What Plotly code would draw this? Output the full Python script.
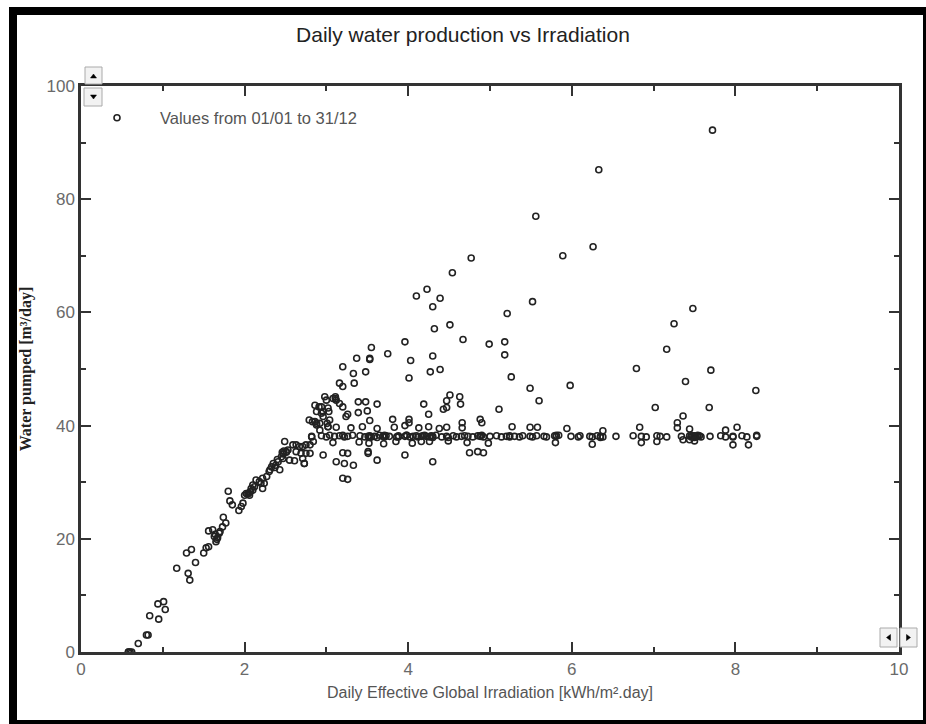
import plotly.graph_objects as go

# ---- data: daily effective irradiation [kWh/m².day] vs water pumped [m³/day] ----

# rising (irradiation-limited) part of the year
irr_ramp = [0.58, 0.58, 0.60, 0.62, 0.70, 0.80, 0.82, 0.84, 0.95, 0.94, 1.01, 1.03,
            1.17, 1.29, 1.35, 1.31, 1.33, 1.40,
            1.50, 1.53, 1.56, 1.56, 1.61, 1.63, 1.65, 1.66, 1.69, 1.73, 1.74, 1.77, 1.70, 1.64, 1.67,
            1.80, 1.82, 1.85,
            1.93, 1.96, 1.98, 2.00, 2.02, 2.04, 2.06, 2.07, 2.10, 2.12, 2.14, 2.18, 2.22, 2.22, 2.24, 2.05, 2.08, 2.10, 2.20,
            2.27, 2.30, 2.31, 2.33, 2.35, 2.37, 2.41, 2.43, 2.45, 2.47, 2.49, 2.51, 2.53, 2.55, 2.59, 2.61,
            2.63, 2.67, 2.69, 2.71, 2.73, 2.75, 2.80, 2.82, 2.84, 2.38, 2.40, 2.46, 2.48, 2.47, 2.51, 2.63,
            2.71, 2.75, 2.80, 2.73]
water_ramp = [0.0, 0.0, 0.0, 0.0, 1.5, 3.0, 3.0, 6.4, 5.8, 8.5, 8.9, 7.5,
              14.8, 17.5, 18.1, 13.9, 12.7, 15.8,
              17.5, 18.4, 18.6, 21.4, 21.6, 20.4, 19.5, 19.9, 21.0, 22.1, 23.8, 22.8, 21.3, 20.8, 20.2,
              28.4, 26.7, 26.0,
              25.0, 25.7, 26.3, 27.7, 28.0, 27.9, 27.7, 28.3, 28.6, 29.2, 30.4, 30.1, 30.7, 28.9, 29.8, 28.1, 28.9, 29.5, 29.8,
              31.0, 31.9, 32.2, 32.7, 33.3, 32.6, 33.6, 32.2, 34.5, 35.0, 37.2, 35.4, 35.7, 33.9, 36.6, 33.8,
              35.4, 36.3, 35.1, 34.2, 33.3, 36.6, 35.1, 38.0, 37.2, 33.0, 34.0, 35.3, 35.5, 34.2, 35.3, 36.6,
              36.3, 35.1, 36.6, 33.3]

# pump-limited plateau
irr_plateau = [2.82, 2.94, 3.00, 3.04, 3.10, 3.16, 3.22, 3.26, 3.32, 3.41, 3.47, 3.51, 3.53, 3.55,
               3.59, 3.65, 3.69, 3.71, 3.73, 3.77, 3.86, 3.88, 3.96, 3.98, 4.02, 4.06, 4.10, 4.12,
               4.16, 4.18, 4.22, 4.26, 4.28, 4.30, 4.34, 4.41, 4.47, 4.55, 4.59, 4.65, 4.69, 4.73,
               4.79, 4.85, 4.88, 4.90, 4.92, 5.00, 5.08, 5.14, 5.20, 5.24, 5.30, 5.36, 5.40, 5.49,
               5.52, 5.57, 5.66, 5.69, 5.79, 5.81, 5.84, 5.99, 6.08, 6.10, 6.22, 6.25, 6.31, 6.35,
               6.38, 6.54, 6.75, 6.85, 6.91, 7.04, 7.08, 7.16, 7.34, 7.44, 7.46, 7.48, 7.50, 7.52,
               7.54, 7.56, 7.58, 7.69, 7.82, 7.88, 7.97, 8.08, 8.14, 8.26,
               3.53, 3.71, 3.88, 3.98, 4.30, 4.88, 5.24, 5.81, 6.35, 7.46, 7.50, 7.54, 7.97, 8.26,
               3.20, 3.62, 4.20, 4.49]
water_plateau = [38.1, 38.2, 38.0, 38.3, 38.1, 38.2, 38.0, 38.1, 38.3, 38.2, 38.0, 38.1, 38.2, 38.0,
                 38.1, 38.3, 38.1, 38.0, 38.2, 38.1, 38.0, 38.2, 38.1, 38.3, 38.0, 38.1, 38.2, 38.0,
                 38.1, 38.2, 38.1, 38.0, 38.2, 38.1, 38.3, 38.0, 38.1, 38.2, 38.0, 38.1, 38.2, 38.1,
                 38.0, 38.2, 38.1, 38.3, 38.0, 38.1, 38.2, 38.0, 38.1, 38.2, 38.1, 38.0, 38.2, 38.1,
                 38.0, 38.2, 38.1, 38.0, 38.2, 38.1, 38.3, 38.1, 38.0, 38.2, 38.1, 38.0, 38.2, 38.1,
                 38.0, 38.1, 38.2, 38.1, 38.0, 38.2, 38.1, 38.0, 38.1, 38.2, 38.0, 38.1, 38.2, 38.0,
                 38.1, 38.2, 38.0, 38.1, 38.2, 38.0, 38.1, 38.2, 38.0, 38.1,
                 37.9, 38.3, 38.0, 38.3, 37.9, 38.2, 38.0, 38.3, 37.9, 38.3, 37.9, 38.3, 38.0, 38.3,
                 38.3, 37.9, 38.3, 37.9]

# days above the plateau
irr_upper = [3.20, 3.48, 3.33, 4.27, 4.39, 4.01, 3.34, 3.16, 3.20, 3.11, 3.08, 3.12, 3.11, 2.98,
             2.86, 2.94, 2.88, 2.96, 3.02, 3.16, 3.20, 3.39, 3.48, 3.62, 3.26, 3.39, 3.50, 3.53,
             3.81, 4.01, 4.19, 4.25, 4.43, 4.47, 4.51, 4.47, 4.63, 4.64, 4.66, 4.88, 2.79, 2.83,
             2.88, 2.92, 2.96, 3.04, 3.02, 3.24, 2.91, 2.92, 2.94, 3.00, 3.01, 3.03, 2.86, 2.88,
             3.55, 3.53, 3.53, 3.37, 3.75, 3.96, 4.03, 4.30, 4.10, 4.23, 4.39, 4.30, 4.32, 4.51,
             4.67, 4.54, 4.77, 4.99, 5.18, 5.18, 5.21, 5.26, 5.11, 5.52, 5.49, 5.60, 5.56, 5.89,
             5.98, 6.26, 6.33, 7.72, 7.48, 7.25, 7.16, 6.79, 7.70, 7.39, 8.25, 7.02, 7.68, 7.36,
             7.29, 3.02, 3.12, 3.30, 3.44, 3.62, 3.83, 3.96, 4.01, 4.13, 4.25, 4.38, 4.47, 4.66,
             4.90, 5.27, 5.49, 5.58, 5.94, 6.38, 6.83, 7.29, 8.02, 7.44, 7.88]
water_upper = [50.4, 49.5, 49.2, 49.5, 49.9, 48.4, 47.5, 47.5, 46.9, 44.8, 44.8, 44.5, 45.1, 45.1,
               43.6, 43.3, 42.5, 42.5, 43.1, 43.9, 43.3, 44.2, 44.2, 43.8, 42.0, 42.3, 42.6, 40.9,
               41.1, 41.1, 43.8, 42.0, 42.9, 43.2, 45.4, 44.4, 45.1, 43.8, 40.5, 41.1, 41.0, 40.7,
               40.1, 40.4, 41.6, 41.0, 39.8, 41.6, 43.3, 39.2, 42.2, 44.5, 40.4, 42.5, 40.7, 40.4,
               53.8, 51.7, 51.9, 51.9, 52.7, 54.8, 51.5, 52.3, 62.9, 64.1, 62.5, 61.0, 57.1, 57.8,
               55.2, 67.0, 69.6, 54.4, 54.8, 52.5, 59.8, 48.6, 42.9, 61.9, 46.6, 44.4, 77.0, 70.0,
               47.1, 71.6, 85.2, 92.2, 60.7, 58.0, 53.5, 50.1, 49.8, 47.8, 46.2, 43.2, 43.2, 41.7,
               40.5, 39.8, 39.7, 39.6, 39.8, 39.5, 39.7, 40.0, 40.5, 39.6, 39.8, 39.5, 39.7, 39.6,
               40.5, 39.8, 39.7, 39.7, 39.5, 39.1, 39.7, 39.6, 39.7, 39.4, 39.2]

# days below the plateau
irr_lower = [2.96, 3.20, 3.12, 3.33, 3.51, 3.51, 3.62, 3.96, 4.30, 4.75, 4.85, 4.92, 3.20, 3.26,
             3.26, 3.22, 3.08, 3.40, 3.52, 3.85, 4.16, 4.26, 4.49, 4.72, 4.98, 5.80, 6.25, 7.04,
             7.36, 7.44, 7.97, 8.16, 6.85, 7.50, 3.70, 4.05]
water_lower = [34.8, 35.2, 33.6, 33.0, 35.1, 35.4, 33.9, 34.8, 33.6, 35.2, 35.4, 35.2, 30.7, 30.5,
               35.1, 33.3, 37.0, 37.1, 36.9, 37.2, 37.2, 37.2, 37.3, 37.0, 36.9, 37.0, 36.7, 37.2,
               37.5, 37.5, 36.6, 36.6, 37.0, 37.3, 36.8, 36.9]

irradiation = irr_ramp + irr_plateau + irr_upper + irr_lower
water = water_ramp + water_plateau + water_upper + water_lower

x_ticks = [0, 2, 4, 6, 8, 10]
y_ticks = [0, 20, 40, 60, 80, 100]

# ---- page geometry (pixels) ----
W, H = 926, 724
PL, PR, PT, PB = 81, 899, 86, 652


def fx(px):
    return (px - PL) / (PR - PL)


def fy(py):
    return (PB - py) / (PB - PT)


def tri(points):
    """Closed SVG path in paper coordinates from pixel vertices."""
    parts = [f"{'M' if i == 0 else 'L'} {fx(px):.5f} {fy(py):.5f}" for i, (px, py) in enumerate(points)]
    return " ".join(parts) + " Z"


NARROW = "Liberation Sans Narrow, Arial Narrow, Liberation Sans, Arial, sans-serif"

fig = go.Figure()
fig.add_trace(go.Scatter(
    x=irradiation, y=water, mode="markers",
    name="Values from 01/01 to 31/12",
    marker=dict(symbol="circle-open", size=6, color="#222", line=dict(width=1.6, color="#222")),
    showlegend=True,
))

axis_common = dict(
    showgrid=False, zeroline=False, showline=True, linecolor="#333", linewidth=2.5,
    mirror="ticks", ticks="inside", tickwidth=1.5, tickcolor="#333", ticklen=10,
    tickfont=dict(family=NARROW, size=17, color="#6a6a6a"),
)

fig.update_xaxes(
    range=[0, 10], tickvals=x_ticks, ticktext=[str(v) for v in x_ticks],
    minor=dict(dtick=1, ticks="inside", ticklen=5, tickwidth=1.5, tickcolor="#333"),
    title=dict(text="Daily Effective Global Irradiation [kWh/m².day]",
               font=dict(family=NARROW, size=16, color="#555"), standoff=9),
    **axis_common,
)
fig.update_yaxes(
    range=[0, 100], tickvals=y_ticks, ticktext=[str(v) for v in y_ticks],
    minor=dict(dtick=10, ticks="inside", ticklen=5, tickwidth=1.5, tickcolor="#333"),
    title=dict(text="<b>Water pumped [m³/day]</b>",
               font=dict(family="Liberation Serif, Times New Roman, serif", size=16, color="#222"),
               standoff=11),
    **axis_common,
)

btn_line = dict(color="#aaa", width=1)
shapes = [
    # thick black outer frame
    dict(type="rect", xref="paper", yref="paper", x0=fx(13), x1=fx(927), y0=fy(724), y1=fy(11),
         line=dict(color="black", width=8)),
    # scroll buttons, vertical (top-left)
    dict(type="rect", xref="paper", yref="paper", x0=fx(85), x1=fx(102), y0=fy(84), y1=fy(67),
         line=btn_line, fillcolor="#f2f2f2"),
    dict(type="rect", xref="paper", yref="paper", x0=fx(84), x1=fx(102), y0=fy(106), y1=fy(88),
         line=btn_line, fillcolor="#f2f2f2"),
    # scroll buttons, horizontal (bottom-right)
    dict(type="rect", xref="paper", yref="paper", x0=fx(880), x1=fx(897), y0=fy(647), y1=fy(628),
         line=btn_line, fillcolor="#f2f2f2"),
    dict(type="rect", xref="paper", yref="paper", x0=fx(900), x1=fx(917), y0=fy(647), y1=fy(628),
         line=btn_line, fillcolor="#f2f2f2"),
]
# small black arrow heads on the buttons
arrow = dict(type="path", xref="paper", yref="paper", fillcolor="black", line=dict(color="black", width=0.5))
shapes += [
    dict(arrow, path=tri([(90.5, 78), (96.5, 78), (93.5, 74)])),
    dict(arrow, path=tri([(90.5, 95), (96.5, 95), (93.5, 99)])),
    dict(arrow, path=tri([(890.5, 634.5), (890.5, 640.5), (886.5, 637.5)])),
    dict(arrow, path=tri([(906.5, 634.5), (906.5, 640.5), (910.5, 637.5)])),
]

fig.update_layout(
    width=W, height=H,
    margin=dict(l=PL, r=W - PR, t=PT, b=H - PB, autoexpand=False),
    paper_bgcolor="white", plot_bgcolor="white",
    title=dict(text="Daily water production vs Irradiation", x=0.5, xref="container",
               y=1 - 35 / H, yref="container", xanchor="center", yanchor="middle",
               font=dict(family=NARROW, size=21, color="#222")),
    legend=dict(x=fx(74), y=fy(118), xanchor="left", yanchor="middle", itemwidth=76,
                bgcolor="rgba(0,0,0,0)", borderwidth=0,
                font=dict(family=NARROW, size=16.5, color="#555")),
    shapes=shapes,
)

fig.write_html("out.html")
